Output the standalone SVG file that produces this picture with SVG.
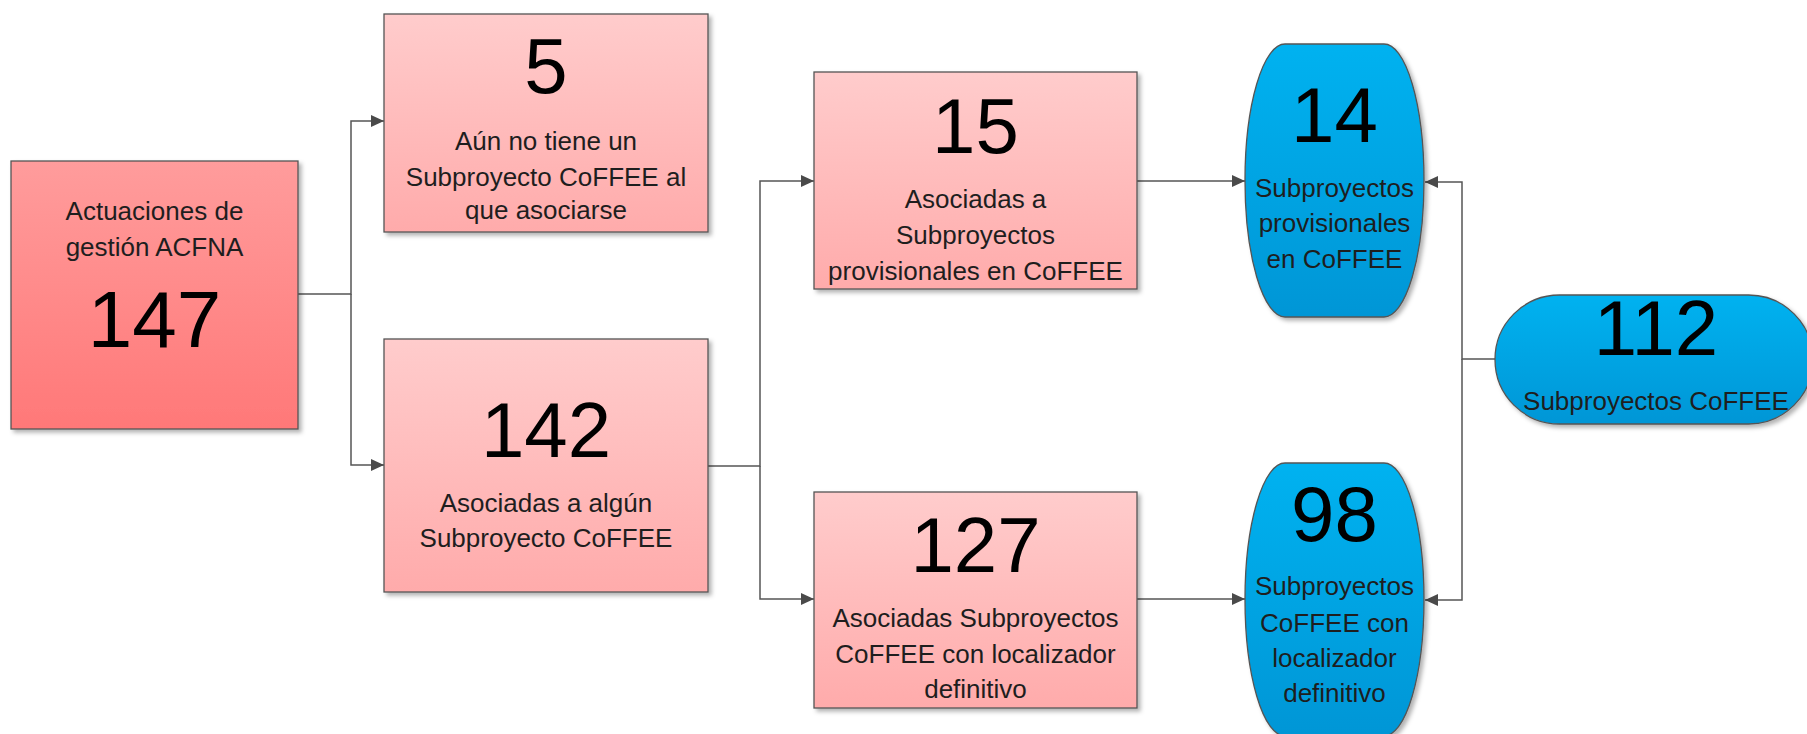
<svg xmlns="http://www.w3.org/2000/svg" width="1807" height="734" viewBox="0 0 1807 734">
<defs>
<linearGradient id="gRed" x1="0" y1="0" x2="0" y2="1"><stop offset="0" stop-color="#FF9C9C"/><stop offset="1" stop-color="#FF7878"/></linearGradient>
<linearGradient id="gPink" x1="0" y1="0" x2="0" y2="1"><stop offset="0" stop-color="#FFCCCC"/><stop offset="1" stop-color="#FFABAB"/></linearGradient>
<linearGradient id="gBlue" x1="0" y1="0" x2="0" y2="1"><stop offset="0" stop-color="#00B2F0"/><stop offset="1" stop-color="#0096D6"/></linearGradient>
<filter id="sh" x="-10%" y="-10%" width="120%" height="120%"><feDropShadow dx="3" dy="3" stdDeviation="2" flood-color="#000" flood-opacity="0.3"/></filter>
<marker id="arr" markerUnits="userSpaceOnUse" markerWidth="14" markerHeight="12" refX="13" refY="6" orient="auto"><path d="M0,0 L13,6 L0,12 z" fill="#4a4a4a"/></marker>
</defs>
<style>
.box{stroke:#555;stroke-width:1.3;filter:url(#sh)}
.num{font-family:"Liberation Sans",Arial,sans-serif;font-size:78px;fill:#000;text-anchor:middle}
.lbl{font-family:"Liberation Sans",Arial,sans-serif;font-size:26px;fill:#1e1e1e;text-anchor:middle}
.con{fill:none;stroke:#555;stroke-width:1.5}
</style>
<g id="connectors">
<path class="con" d="M298,294 H351 V121 H384" marker-end="url(#arr)"/>
<path class="con" d="M351,294 V465 H384" marker-end="url(#arr)"/>
<path class="con" d="M708,466 H760 V181 H814" marker-end="url(#arr)"/>
<path class="con" d="M760,466 V599 H814" marker-end="url(#arr)"/>
<path class="con" d="M1137,181 H1245" marker-end="url(#arr)"/>
<path class="con" d="M1137,599 H1245" marker-end="url(#arr)"/>
<path class="con" d="M1495,359 H1462 V182 H1425" marker-end="url(#arr)"/>
<path class="con" d="M1462,359 V600 H1425" marker-end="url(#arr)"/>
</g>
<g id="n147">
<rect class="box" x="11" y="161" width="287" height="268" fill="url(#gRed)"/>
<text class="lbl" x="154.5" y="220">Actuaciones de</text>
<text class="lbl" x="154.5" y="256">gestión ACFNA</text>
<text class="num" x="154.5" y="347" style="font-size:80px">147</text>
</g>
<g id="n5">
<rect class="box" x="384" y="14" width="324" height="218" fill="url(#gPink)"/>
<text class="num" x="546" y="93">5</text>
<text class="lbl" x="546" y="150">Aún no tiene un</text>
<text class="lbl" x="546" y="185.5">Subproyecto CoFFEE al</text>
<text class="lbl" x="546" y="219">que asociarse</text>
</g>
<g id="n142">
<rect class="box" x="384" y="339" width="324" height="253" fill="url(#gPink)"/>
<text class="num" x="546" y="457">142</text>
<text class="lbl" x="546" y="512">Asociadas a algún</text>
<text class="lbl" x="546" y="547">Subproyecto CoFFEE</text>
</g>
<g id="n15">
<rect class="box" x="814" y="72" width="323" height="217" fill="url(#gPink)"/>
<text class="num" x="975.5" y="153">15</text>
<text class="lbl" x="975.5" y="208">Asociadas a</text>
<text class="lbl" x="975.5" y="244">Subproyectos</text>
<text class="lbl" x="975.5" y="280">provisionales en CoFFEE</text>
</g>
<g id="n127">
<rect class="box" x="814" y="492" width="323" height="216" fill="url(#gPink)"/>
<text class="num" x="975.5" y="572">127</text>
<text class="lbl" x="975.5" y="627">Asociadas Subproyectos</text>
<text class="lbl" x="975.5" y="663">CoFFEE con localizador</text>
<text class="lbl" x="975.5" y="698">definitivo</text>
</g>
<g id="n14">
<rect class="box" x="1245" y="44" width="179" height="273" rx="40" ry="136.5" fill="url(#gBlue)"/>
<text class="num" x="1334.5" y="142">14</text>
<text class="lbl" x="1334.5" y="197">Subproyectos</text>
<text class="lbl" x="1334.5" y="232">provisionales</text>
<text class="lbl" x="1334.5" y="268">en CoFFEE</text>
</g>
<g id="n98">
<rect class="box" x="1245" y="463" width="179" height="273" rx="40" ry="136.5" fill="url(#gBlue)"/>
<text class="num" x="1334.5" y="541">98</text>
<text class="lbl" x="1334.5" y="595">Subproyectos</text>
<text class="lbl" x="1334.5" y="632">CoFFEE con</text>
<text class="lbl" x="1334.5" y="667">localizador</text>
<text class="lbl" x="1334.5" y="702">definitivo</text>
</g>
<g id="n112">
<rect class="box" x="1495" y="295" width="318" height="129" rx="64.5" ry="64.5" fill="url(#gBlue)"/>
<text class="num" x="1656" y="355">112</text>
<text class="lbl" x="1656" y="410">Subproyectos CoFFEE</text>
</g>
</svg>
